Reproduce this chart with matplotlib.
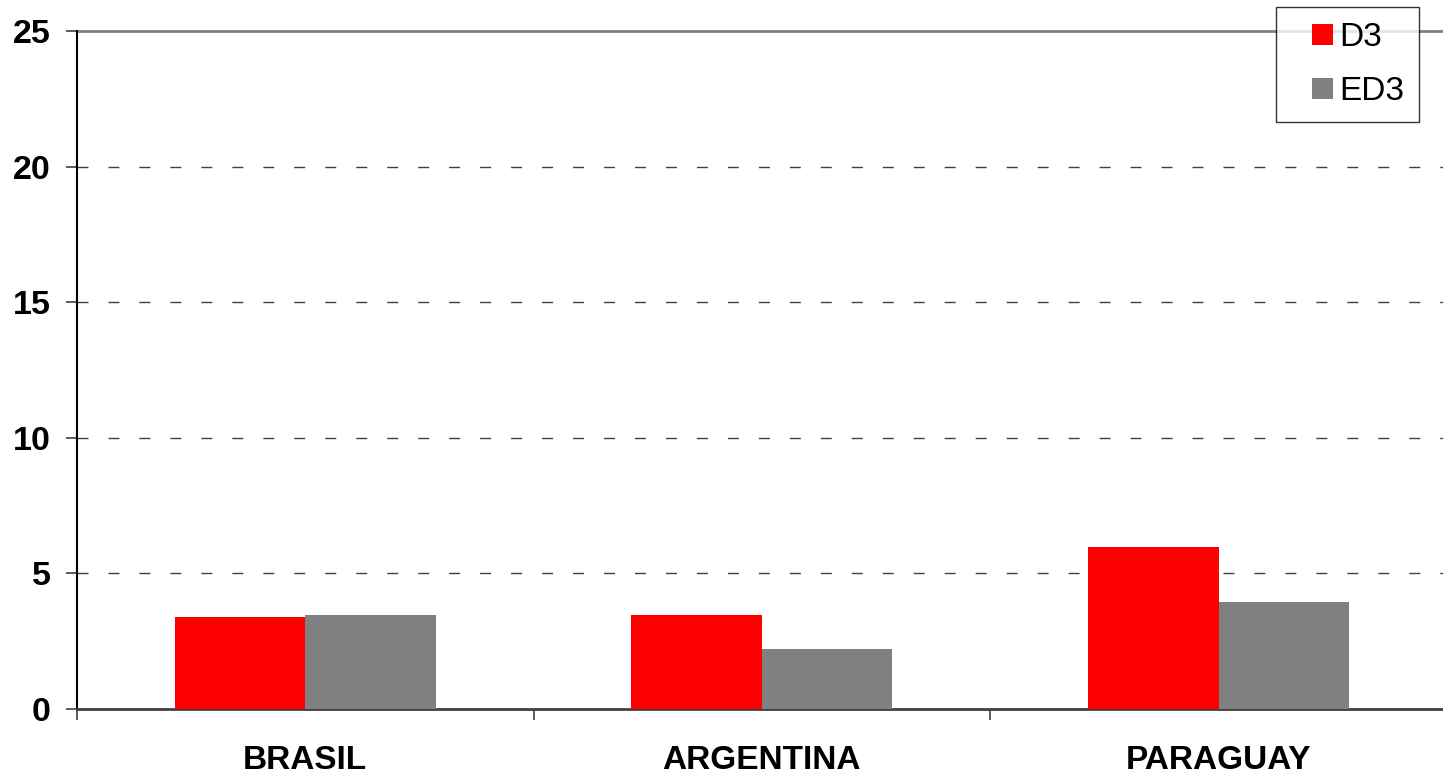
import matplotlib
matplotlib.use("Agg")
import matplotlib.pyplot as plt
from matplotlib.patches import Patch, Rectangle
from matplotlib.legend_handler import HandlerPatch
import numpy as np

categories = ["BRASIL", "ARGENTINA", "PARAGUAY"]
d3 = [3.38, 3.46, 5.97]
ed3 = [3.46, 2.20, 3.93]
series_names = ["D3", "ED3"]
yticks = [0, 5, 10, 15, 20, 25]

plt.rcParams['font.family'] = ['Liberation Sans', 'DejaVu Sans']
plt.rcParams['lines.scale_dashes'] = False

W, H = 1443, 778
fig = plt.figure(figsize=(W / 100, H / 100), dpi=100)
ax = fig.add_axes([77 / W, (H - 709) / H, 1 - 77 / W, (709 - 31) / H])

x = np.arange(len(categories))
bw = 0.286
ax.bar(x - bw / 2, d3, width=bw, color="#ff0000", zorder=3)
ax.bar(x + bw / 2, ed3, width=bw, color="#808080", zorder=3)

ax.set_ylim(0, 25)
ax.set_xlim(-0.5, -0.5 + (W - 77) / 456.6)

for yv in yticks[1:-1]:
    ax.axhline(yv, color="#404040", lw=1.0, linestyle=(0, (7.9, 14.4)), zorder=1)
ax.axhline(25, color="#808080", lw=2.0, zorder=2, clip_on=False)

ax.set_yticks(yticks)
ax.set_yticklabels([str(v) for v in yticks], fontsize=24.5, fontweight="bold")
ax.set_xticks(x)
ax.set_xticklabels(categories, fontsize=24, fontweight="bold")
ax.tick_params(axis="x", length=0, pad=26)
ax.tick_params(axis="y", length=8, width=1.2, color="#404040", pad=11)
# category boundary ticks
ax.set_xticks([-0.5, 0.5, 1.5], minor=True)
ax.tick_params(axis="x", which="minor", length=8, width=1.2, color="#404040", direction="out")

for s in ["top", "right"]:
    ax.spines[s].set_visible(False)
ax.spines["left"].set_color("black")
ax.spines["left"].set_linewidth(1.5)
ax.spines["bottom"].set_color("#404040")
ax.spines["bottom"].set_linewidth(2.0)


def square_right(legend, orig_handle, xdescent, ydescent, width, height, fontsize):
    s = 21 * 0.72  # square side in points
    return Rectangle((width - s - xdescent, (height - s) / 2 - ydescent), s, s)


handles = [Patch(facecolor="#ff0000", edgecolor="none"), Patch(facecolor="#808080", edgecolor="none")]
leg = fig.legend(handles, series_names, loc="upper left",
                 bbox_to_anchor=(1276 / W, 1 - 7 / H), borderaxespad=0,
                 fontsize=24, frameon=True, fancybox=False, shadow=False,
                 handlelength=1.25, handleheight=0.7, handletextpad=0.2,
                 labelspacing=0.7, borderpad=0.45,
                 handler_map={Patch: HandlerPatch(patch_func=square_right)})
leg.get_frame().set_edgecolor("black")
leg.get_frame().set_linewidth(1.0)

fig.savefig("out.png", dpi=100)
